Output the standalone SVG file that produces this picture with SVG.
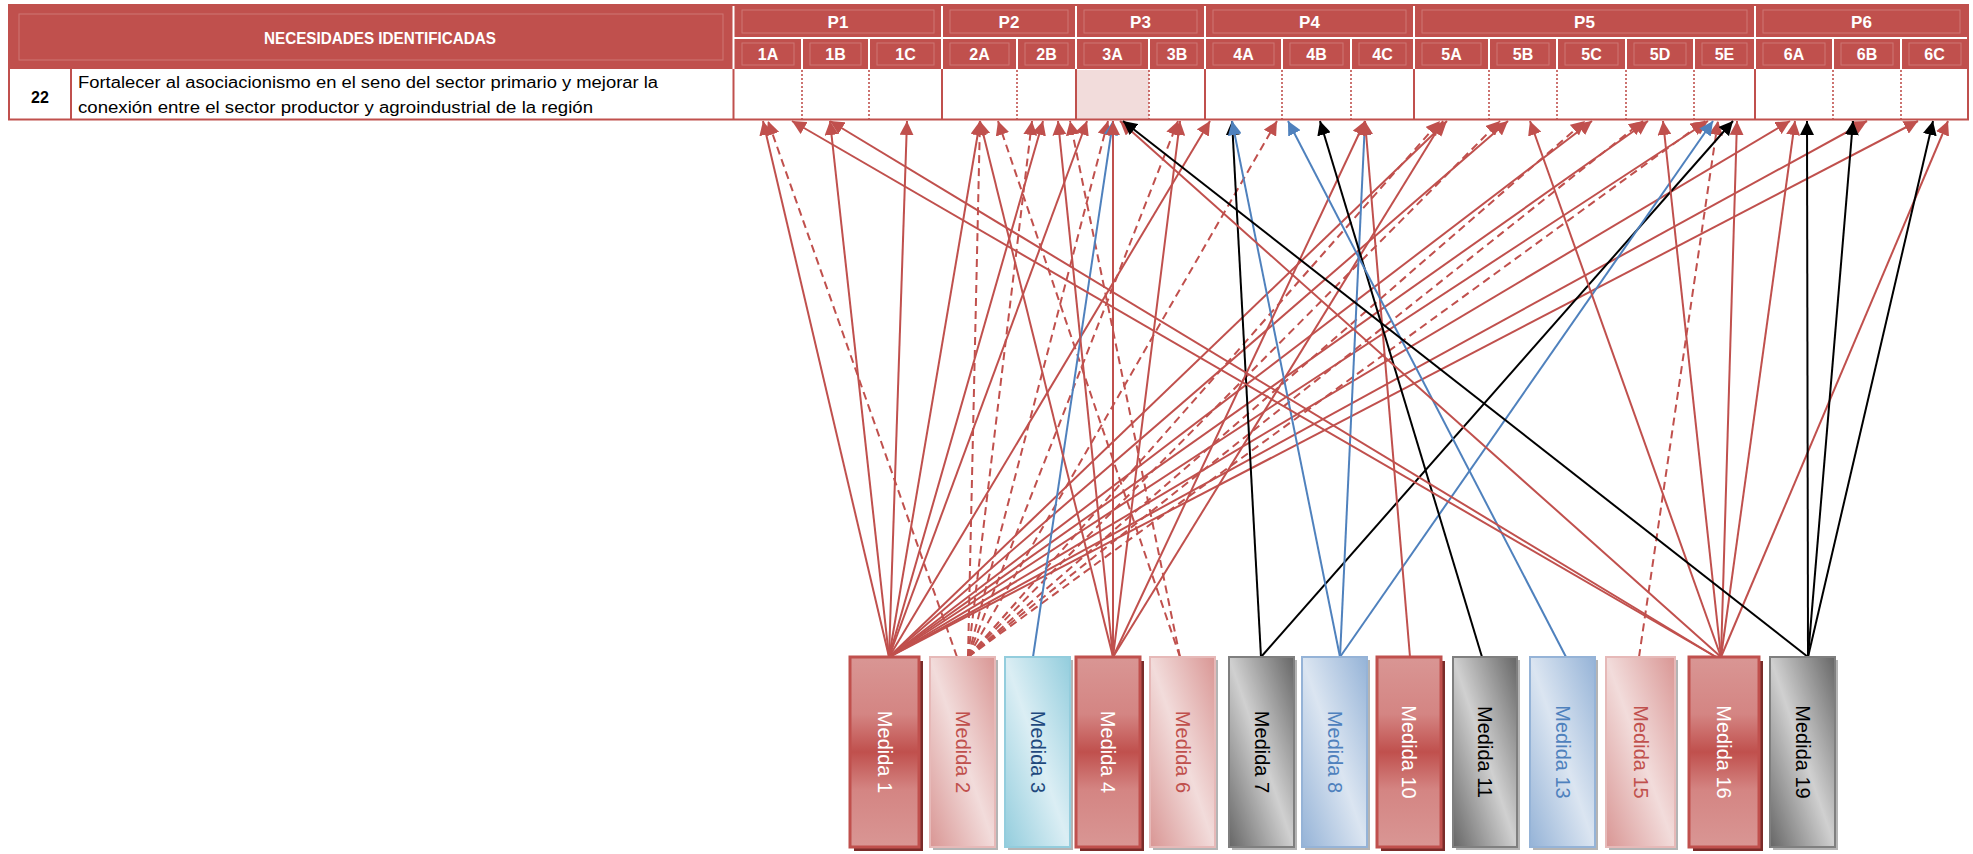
<svg xmlns="http://www.w3.org/2000/svg" width="1973" height="854" viewBox="0 0 1973 854">
<defs>
<style>
.hd{fill:#c0504d}
.wl{stroke:#fff;stroke-width:2}
.bv{fill:none;stroke:#fff;stroke-opacity:.22;stroke-width:1}
.ht{font-family:"Liberation Sans",Arial,sans-serif;font-weight:bold;fill:#fff;text-anchor:middle;dominant-baseline:central}
.sl{stroke:#c0504d;stroke-width:2}
.dt{stroke:#c0504d;stroke-width:1.6;stroke-dasharray:2 2}
.bt{font-family:"Liberation Sans",Arial,sans-serif;font-size:16px;fill:#000}
.mt{font-family:"Liberation Sans",Arial,sans-serif;font-size:20px;text-anchor:middle;dominant-baseline:central}
.c{fill:none;stroke-width:2}
.r{stroke:#c0504d;marker-end:url(#ar)}
.d{stroke-dasharray:8 5}
.b{stroke:#4f81bd;marker-end:url(#ab)}
.k{stroke:#000;marker-end:url(#ak)}
.shR{fill:#7b2c2a}
.shG{fill:#b4b4b4}
</style>
<marker id="ar" viewBox="0 0 10 10" refX="10" refY="5" markerWidth="7" markerHeight="7" orient="auto" markerUnits="strokeWidth"><path d="M0,0 L10,5 L0,10 z" fill="#c0504d"/></marker>
<marker id="ab" viewBox="0 0 10 10" refX="10" refY="5" markerWidth="7" markerHeight="7" orient="auto" markerUnits="strokeWidth"><path d="M0,0 L10,5 L0,10 z" fill="#4f81bd"/></marker>
<marker id="ak" viewBox="0 0 10 10" refX="10" refY="5" markerWidth="7" markerHeight="7" orient="auto" markerUnits="strokeWidth"><path d="M0,0 L10,5 L0,10 z" fill="#000"/></marker>
<linearGradient id="gR" x1="0" y1="0" x2="0" y2="1"><stop offset="0" stop-color="#d99694"/><stop offset=".3" stop-color="#d48583"/><stop offset=".5" stop-color="#c0504d"/><stop offset=".7" stop-color="#d48583"/><stop offset="1" stop-color="#d99694"/></linearGradient>
<linearGradient id="gL" x1="1" y1="0" x2="0" y2="1"><stop offset="0" stop-color="#d99694"/><stop offset=".5" stop-color="#f2dcdb"/><stop offset="1" stop-color="#d99694"/></linearGradient>
<linearGradient id="gT" x1="1" y1="0" x2="0" y2="1"><stop offset="0" stop-color="#93cddd"/><stop offset=".5" stop-color="#dbeef4"/><stop offset="1" stop-color="#93cddd"/></linearGradient>
<linearGradient id="gK" x1="1" y1="0" x2="0" y2="1"><stop offset="0" stop-color="#666"/><stop offset=".5" stop-color="#d0d0d0"/><stop offset="1" stop-color="#666"/></linearGradient>
<linearGradient id="gB" x1="1" y1="0" x2="0" y2="1"><stop offset="0" stop-color="#95b3d7"/><stop offset=".5" stop-color="#dbe5f1"/><stop offset="1" stop-color="#95b3d7"/></linearGradient>
</defs>
<rect width="1973" height="854" fill="#fff"/>

<g id="table-header">
<rect class="hd" x="9" y="5" width="1959" height="64"/>
<rect class="bv" x="19" y="14" width="704" height="46"/>
<line class="wl" x1="733.5" y1="5" x2="733.5" y2="69"/>
<line class="wl" x1="733.5" y1="38" x2="1968" y2="38"/>
<g class="wl">
<line x1="942" y1="5" x2="942" y2="69"/><line x1="1076" y1="5" x2="1076" y2="69"/><line x1="1205" y1="5" x2="1205" y2="69"/><line x1="1414" y1="5" x2="1414" y2="69"/><line x1="1755" y1="5" x2="1755" y2="69"/>
<line x1="802" y1="38" x2="802" y2="69"/><line x1="869" y1="38" x2="869" y2="69"/><line x1="1017" y1="38" x2="1017" y2="69"/><line x1="1149" y1="38" x2="1149" y2="69"/><line x1="1282" y1="38" x2="1282" y2="69"/><line x1="1351" y1="38" x2="1351" y2="69"/><line x1="1489" y1="38" x2="1489" y2="69"/><line x1="1557" y1="38" x2="1557" y2="69"/><line x1="1626" y1="38" x2="1626" y2="69"/><line x1="1694" y1="38" x2="1694" y2="69"/><line x1="1833" y1="38" x2="1833" y2="69"/><line x1="1901" y1="38" x2="1901" y2="69"/>
</g>
<g class="bv">
<rect x="742" y="10" width="192" height="23"/><rect x="950" y="10" width="118" height="23"/><rect x="1084" y="10" width="113" height="23"/><rect x="1213" y="10" width="193" height="23"/><rect x="1422" y="10" width="325" height="23"/><rect x="1763" y="10" width="197" height="23"/>
<rect x="742" y="43" width="52" height="22"/><rect x="810" y="43" width="51" height="22"/><rect x="877" y="43" width="57" height="22"/><rect x="950" y="43" width="59" height="22"/><rect x="1025" y="43" width="43" height="22"/><rect x="1084" y="43" width="57" height="22"/><rect x="1157" y="43" width="40" height="22"/><rect x="1213" y="43" width="61" height="22"/><rect x="1290" y="43" width="53" height="22"/><rect x="1359" y="43" width="47" height="22"/><rect x="1422" y="43" width="59" height="22"/><rect x="1497" y="43" width="52" height="22"/><rect x="1565" y="43" width="53" height="22"/><rect x="1634" y="43" width="52" height="22"/><rect x="1702" y="43" width="45" height="22"/><rect x="1763" y="43" width="62" height="22"/><rect x="1841" y="43" width="52" height="22"/><rect x="1909" y="43" width="52" height="22"/>
</g>
<text class="ht" x="380" y="38" font-size="16" textLength="232" lengthAdjust="spacingAndGlyphs">NECESIDADES IDENTIFICADAS</text>
<g class="ht" font-size="17">
<text x="838" y="22">P1</text><text x="1009" y="22">P2</text><text x="1140.5" y="22">P3</text><text x="1309.5" y="22">P4</text><text x="1584.5" y="22">P5</text><text x="1861.5" y="22">P6</text>
</g>
<g class="ht" font-size="16">
<text x="768" y="54">1A</text><text x="835.5" y="54">1B</text><text x="905.5" y="54">1C</text><text x="979.5" y="54">2A</text><text x="1046.5" y="54">2B</text><text x="1112.5" y="54">3A</text><text x="1177" y="54">3B</text><text x="1243.5" y="54">4A</text><text x="1316.5" y="54">4B</text><text x="1382.5" y="54">4C</text><text x="1451.5" y="54">5A</text><text x="1523" y="54">5B</text><text x="1591.5" y="54">5C</text><text x="1660" y="54">5D</text><text x="1724.5" y="54">5E</text><text x="1794" y="54">6A</text><text x="1867" y="54">6B</text><text x="1934.5" y="54">6C</text>
</g>
</g>

<g id="need-22">
<rect x="9" y="69" width="1959" height="50.5" fill="#fff"/>
<rect x="1076" y="70" width="73" height="49" fill="#f2dcdb"/>
<g class="dt">
<line x1="802" y1="70" x2="802" y2="119"/><line x1="869" y1="70" x2="869" y2="119"/><line x1="1017" y1="70" x2="1017" y2="119"/><line x1="1149" y1="70" x2="1149" y2="119"/><line x1="1282" y1="70" x2="1282" y2="119"/><line x1="1351" y1="70" x2="1351" y2="119"/><line x1="1489" y1="70" x2="1489" y2="119"/><line x1="1557" y1="70" x2="1557" y2="119"/><line x1="1626" y1="70" x2="1626" y2="119"/><line x1="1694" y1="70" x2="1694" y2="119"/><line x1="1833" y1="70" x2="1833" y2="119"/><line x1="1901" y1="70" x2="1901" y2="119"/>
</g>
<g class="sl">
<line x1="71" y1="69" x2="71" y2="119.5"/><line x1="733.5" y1="69" x2="733.5" y2="119.5"/><line x1="942" y1="69" x2="942" y2="119.5"/><line x1="1076" y1="69" x2="1076" y2="119.5"/><line x1="1205" y1="69" x2="1205" y2="119.5"/><line x1="1414" y1="69" x2="1414" y2="119.5"/><line x1="1755" y1="69" x2="1755" y2="119.5"/>
</g>
<rect x="9" y="5" width="1959" height="114.5" fill="none" stroke="#c0504d" stroke-width="2"/>
<text class="bt" x="40" y="103" font-weight="bold" text-anchor="middle">22</text>
<text class="bt" x="78" y="87.5" textLength="580" lengthAdjust="spacingAndGlyphs">Fortalecer al asociacionismo en el seno del sector primario y mejorar la</text>
<text class="bt" x="78" y="113" textLength="515" lengthAdjust="spacingAndGlyphs">conexión entre el sector productor y agroindustrial de la región</text>
</g>

<g id="connectors" class="c">
<g class="r">
<path d="M889,657 L763,121"/><path d="M889,657 L830,121"/><path d="M889,657 L907,121"/><path d="M889,657 L980,121"/><path d="M889,657 L1043,121"/><path d="M889,657 L1087,121"/><path d="M889,657 L1210,121"/><path d="M889,657 L1447,121"/><path d="M889,657 L1508,121"/><path d="M889,657 L1592,121"/><path d="M889,657 L1648,121"/><path d="M889,657 L1708,121"/><path d="M889,657 L1790,121"/><path d="M889,657 L1867,121"/><path d="M889,657 L1918,121"/>
</g>
<g class="r d">
<path d="M957,657 L768,121"/><path d="M968,657 L980,121"/><path d="M968,657 L1032,121"/><path d="M968,657 L1108,121"/><path d="M968,657 L1178,121"/><path d="M968,657 L1277,121"/><path d="M968,657 L1440,121"/><path d="M968,657 L1500,121"/><path d="M968,657 L1585,121"/><path d="M968,657 L1643,121"/><path d="M968,657 L1705,121"/>
<path d="M1180,657 L998,121"/><path d="M1180,657 L1070,121"/>
<path d="M1639,657 L1718,121"/>
</g>
<g class="b">
<path d="M1033,657 L1113,121"/>
</g>
<g class="r">
<path d="M1113,657 L980,121"/><path d="M1113,657 L1058,121"/><path d="M1113,657 L1113,121"/><path d="M1113,657 L1180,121"/><path d="M1113,657 L1443,121"/>
</g>
<g class="k">
<path d="M1261,657 L1232,121"/><path d="M1261,657 L1733,121"/>
</g>
<g class="b">
<path d="M1340,657 L1232,121"/><path d="M1340,657 L1365,121"/><path d="M1340,657 L1713,121"/>
</g>
<g class="r">
<path d="M1113,657 L1365,121"/><path d="M1410,657 L1365,121"/>
</g>
<g class="k">
<path d="M1482,657 L1320,121"/>
</g>
<g class="b">
<path d="M1566,657 L1288,121"/>
</g>
<g class="r">
<path d="M1716,657 L792,121"/><path d="M1716,657 L830,121"/><path d="M1721,657 L1120,121"/><path d="M1721,657 L1530,121"/><path d="M1721,657 L1663,121"/><path d="M1721,657 L1737,121"/><path d="M1721,657 L1795,121"/><path d="M1721,657 L1948,121"/>
</g>
<g class="k">
<path d="M1808,657 L1123,121"/><path d="M1808,657 L1807,121"/><path d="M1808,657 L1853,121"/><path d="M1808,657 L1933,121"/>
</g>
</g>

<g id="medida-1"><rect class="shR" x="854" y="661" width="69" height="190"/><rect x="850" y="657" width="69" height="190" fill="url(#gR)" stroke="#c0504d" stroke-width="3"/><text class="mt" fill="#fff" transform="translate(884.5,752) rotate(90)">Medida 1</text></g>
<g id="medida-2"><rect class="shG" x="933" y="660" width="65" height="190"/><rect x="930" y="657" width="65" height="190" fill="url(#gL)" stroke="#e6b9b8" stroke-width="2"/><text class="mt" fill="#c0504d" transform="translate(962.5,752) rotate(90)">Medida 2</text></g>
<g id="medida-3"><rect class="shG" x="1008" y="660" width="65" height="190"/><rect x="1005" y="657" width="65" height="190" fill="url(#gT)" stroke="#93cddd" stroke-width="2"/><text class="mt" fill="#1f497d" transform="translate(1037.5,752) rotate(90)">Medida 3</text></g>
<g id="medida-4"><rect class="shR" x="1080" y="661" width="64" height="190"/><rect x="1076" y="657" width="64" height="190" fill="url(#gR)" stroke="#c0504d" stroke-width="3"/><text class="mt" fill="#fff" transform="translate(1108,752) rotate(90)">Medida 4</text></g>
<g id="medida-6"><rect class="shG" x="1153" y="660" width="65" height="190"/><rect x="1150" y="657" width="65" height="190" fill="url(#gL)" stroke="#e6b9b8" stroke-width="2"/><text class="mt" fill="#c0504d" transform="translate(1182.5,752) rotate(90)">Medida 6</text></g>
<g id="medida-7"><rect class="shG" x="1232" y="660" width="65" height="190"/><rect x="1229" y="657" width="65" height="190" fill="url(#gK)" stroke="#7f7f7f" stroke-width="2"/><text class="mt" fill="#000" transform="translate(1261.5,752) rotate(90)">Medida 7</text></g>
<g id="medida-8"><rect class="shG" x="1305" y="660" width="65" height="190"/><rect x="1302" y="657" width="65" height="190" fill="url(#gB)" stroke="#95b3d7" stroke-width="2"/><text class="mt" fill="#4f81bd" transform="translate(1334.5,752) rotate(90)">Medida 8</text></g>
<g id="medida-10"><rect class="shR" x="1381" y="661" width="64" height="190"/><rect x="1377" y="657" width="64" height="190" fill="url(#gR)" stroke="#c0504d" stroke-width="3"/><text class="mt" fill="#fff" transform="translate(1409,752) rotate(90)">Medida 10</text></g>
<g id="medida-11"><rect class="shG" x="1456" y="660" width="64" height="190"/><rect x="1453" y="657" width="64" height="190" fill="url(#gK)" stroke="#7f7f7f" stroke-width="2"/><text class="mt" fill="#000" transform="translate(1485,752) rotate(90)">Medida 11</text></g>
<g id="medida-13"><rect class="shG" x="1533" y="660" width="65" height="190"/><rect x="1530" y="657" width="65" height="190" fill="url(#gB)" stroke="#95b3d7" stroke-width="2"/><text class="mt" fill="#4f81bd" transform="translate(1562.5,752) rotate(90)">Medida 13</text></g>
<g id="medida-15"><rect class="shG" x="1609" y="660" width="69" height="190"/><rect x="1606" y="657" width="69" height="190" fill="url(#gL)" stroke="#e6b9b8" stroke-width="2"/><text class="mt" fill="#c0504d" transform="translate(1640.5,752) rotate(90)">Medida 15</text></g>
<g id="medida-16"><rect class="shR" x="1693" y="661" width="70" height="190"/><rect x="1689" y="657" width="70" height="190" fill="url(#gR)" stroke="#c0504d" stroke-width="3"/><text class="mt" fill="#fff" transform="translate(1724,752) rotate(90)">Medida 16</text></g>
<g id="medida-19"><rect class="shG" x="1773" y="660" width="65" height="190"/><rect x="1770" y="657" width="65" height="190" fill="url(#gK)" stroke="#7f7f7f" stroke-width="2"/><text class="mt" fill="#000" transform="translate(1802.5,752) rotate(90)">Medida 19</text></g>
</svg>
